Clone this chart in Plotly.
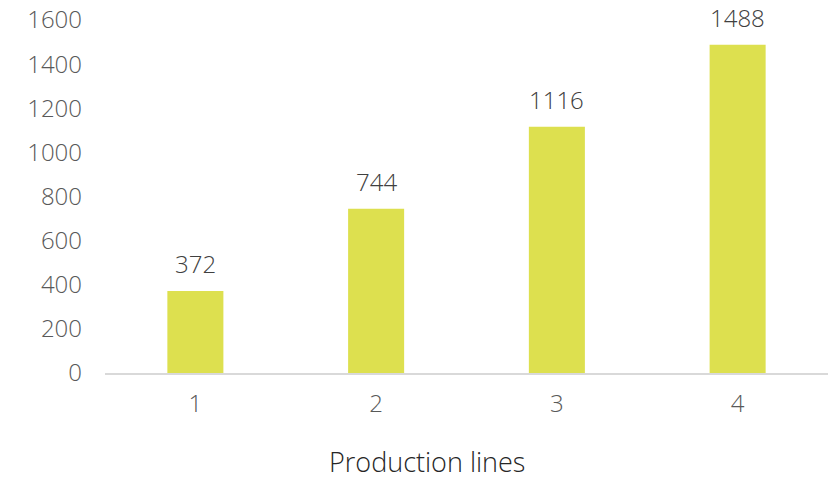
import plotly.graph_objects as go

categories = ["1", "2", "3", "4"]
values = [372, 744, 1116, 1488]
y_ticks = [0, 200, 400, 600, 800, 1000, 1200, 1400, 1600]
x_title = "Production lines"

FONT = "Open Sans"
FS = 24

fig = go.Figure(go.Bar(
    x=categories, y=values,
    marker=dict(color="#DDE04F", line=dict(width=0)),
    width=0.31,
))

for i, v in enumerate(values):
    fig.add_annotation(
        x=i, y=v, text=str(v), showarrow=False,
        yanchor="bottom", yshift=9,
        font=dict(family=FONT, size=FS, color="#404040", weight=300),
    )

fig.add_annotation(
    xref="paper", yref="paper", x=0.4455, y=0, yshift=-108,
    xanchor="center", yanchor="bottom", showarrow=False,
    text=x_title, borderpad=0,
    font=dict(family=FONT, size=27, color="#262626", weight=300),
)

fig.update_layout(
    width=828, height=482,
    margin=dict(l=105, r=0, t=20, b=109),
    paper_bgcolor="white", plot_bgcolor="white",
    font=dict(family=FONT, size=FS, color="#595959", weight=300),
    showlegend=False,
    xaxis=dict(
        type="category",
        showline=True, linecolor="#D9D9D9", linewidth=1.5,
        ticks="", ticklabelstandoff=8,
        tickfont=dict(family=FONT, size=FS, color="#595959", weight=300),
    ),
    yaxis=dict(
        range=[0, 1600], tickvals=y_ticks, showgrid=False, zeroline=False,
        showline=False, ticks="", ticklabelstandoff=22,
        tickfont=dict(family=FONT, size=FS, color="#595959", weight=300),
    ),
)

fig.write_html("out.html")
